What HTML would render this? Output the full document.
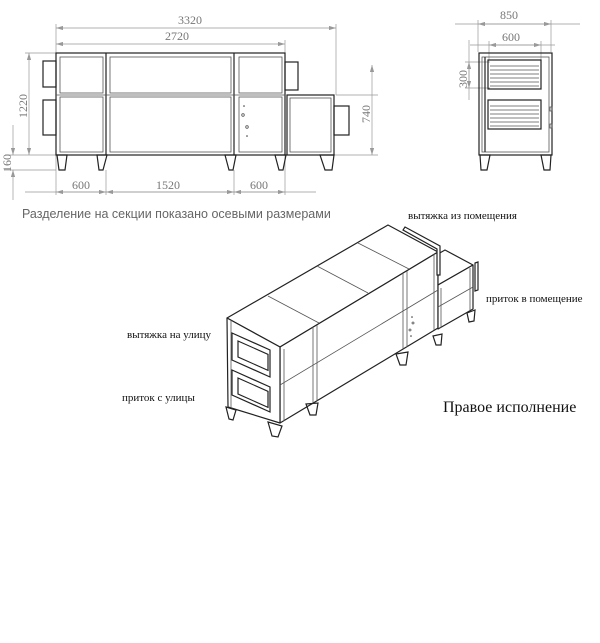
<!DOCTYPE html>
<html><head><meta charset="utf-8"><style>
html,body{margin:0;padding:0;background:#fff;width:600px;height:643px;overflow:hidden}
svg{display:block}
.d{stroke:#999;stroke-width:0.7;fill:none}
.t{font-family:"Liberation Serif",serif;fill:#777;font-size:12px}
.b{stroke:#222;stroke-width:1.2;fill:none}
.g{stroke:#555;stroke-width:0.8;fill:none}
.l{font-family:"Liberation Serif",serif;fill:#111;font-size:11px}
</style></head><body>
<svg width="600" height="643" viewBox="0 0 600 643">
<defs><marker id="a" viewBox="0 0 10 6" refX="10" refY="3" markerWidth="10" markerHeight="6" orient="auto-start-reverse"><path d="M0,0 L10,3 L0,6 z" fill="#999"/></marker></defs>
<!-- front view dims -->
<line class="d" x1="56" y1="28" x2="336" y2="28" marker-start="url(#a)" marker-end="url(#a)"/>
<text class="t" x="178" y="24">3320</text>
<line class="d" x1="56" y1="44" x2="285" y2="44" marker-start="url(#a)" marker-end="url(#a)"/>
<text class="t" x="165" y="40">2720</text>
<line class="d" x1="56" y1="24" x2="56" y2="195"/><line class="d" x1="336" y1="24" x2="336" y2="95"/>
<line class="d" x1="285" y1="40" x2="285" y2="195"/>
<line class="d" x1="106" y1="170" x2="106" y2="195"/><line class="d" x1="234" y1="170" x2="234" y2="195"/>
<line class="d" x1="25" y1="192" x2="316" y2="192"/>
<line class="d" x1="56" y1="192" x2="106" y2="192" marker-start="url(#a)" marker-end="url(#a)"/>
<line class="d" x1="106" y1="192" x2="234" y2="192" marker-start="url(#a)" marker-end="url(#a)"/>
<line class="d" x1="234" y1="192" x2="285" y2="192" marker-start="url(#a)" marker-end="url(#a)"/>
<text class="t" x="72" y="189">600</text><text class="t" x="156" y="189">1520</text><text class="t" x="250" y="189">600</text>
<line class="d" x1="29" y1="53" x2="29" y2="155" marker-start="url(#a)" marker-end="url(#a)"/>
<line class="d" x1="25" y1="53" x2="56" y2="53"/><line class="d" x1="5" y1="155" x2="56" y2="155"/><line class="d" x1="5" y1="170" x2="56" y2="170"/>
<text class="t" transform="translate(27,118) rotate(-90)">1220</text>
<line class="d" x1="13" y1="125" x2="13" y2="155" marker-end="url(#a)"/><line class="d" x1="13" y1="200" x2="13" y2="170" marker-end="url(#a)"/>
<text class="t" transform="translate(11,172) rotate(-90)">160</text>
<line class="d" x1="372" y1="65" x2="372" y2="155" marker-start="url(#a)" marker-end="url(#a)"/>
<line class="d" x1="336" y1="95" x2="378" y2="95"/><line class="d" x1="334" y1="155" x2="378" y2="155"/>
<text class="t" transform="translate(370,123) rotate(-90)">740</text>
<!-- front body -->
<rect class="b" x="56" y="53" width="229" height="102"/>
<rect class="g" x="60" y="57" width="43" height="36"/><rect class="g" x="60" y="97" width="43" height="55"/>
<rect class="g" x="110" y="57" width="121" height="36"/><rect class="g" x="110" y="97" width="121" height="55"/>
<rect class="g" x="239" y="57" width="43" height="36"/><rect class="g" x="239" y="97" width="43" height="55"/>
<line class="b" x1="106" y1="53" x2="106" y2="155"/><line class="b" x1="234" y1="53" x2="234" y2="155"/>
<line class="g" x1="56" y1="95" x2="285" y2="95"/>
<rect class="b" x="287" y="95" width="47" height="60"/><rect class="g" x="290" y="98" width="41" height="54"/>
<rect class="b" x="43" y="61" width="13" height="26"/><rect class="b" x="43" y="100" width="13" height="35"/>
<rect class="b" x="285" y="62" width="13" height="28"/><rect class="b" x="334" y="106" width="15" height="29"/>
<circle cx="244" cy="106" r="0.8" fill="#333"/><circle cx="243" cy="115" r="1.3" class="g"/><circle cx="247" cy="127" r="1.3" class="g"/><circle cx="247" cy="136" r="0.8" fill="#333"/>
<g class="b"><path d="M57,155 L67,155 L65,170 L59,170 Z"/><path d="M97,155 L107,155 L103,170 L99,170 Z"/><path d="M225,155 L236,155 L233,170 L229,170 Z"/><path d="M275,155 L286,155 L283,170 L279,170 Z"/><path d="M320,155 L334,155 L332,170 L325,170 Z"/></g>
<text x="22" y="218" style="font-family:'Liberation Sans',sans-serif;font-size:12.5px;fill:#666">Разделение на секции показано осевыми размерами</text>
<!-- side view -->
<line class="d" x1="455" y1="24" x2="580" y2="24"/><line class="d" x1="478" y1="24" x2="551" y2="24" marker-start="url(#a)" marker-end="url(#a)"/>
<text class="t" x="500" y="19">850</text>
<line class="d" x1="470" y1="45" x2="555" y2="45"/><line class="d" x1="489" y1="45" x2="541" y2="45" marker-start="url(#a)" marker-end="url(#a)"/>
<text class="t" x="502" y="41">600</text>
<line class="d" x1="478" y1="20" x2="478" y2="52"/><line class="d" x1="551" y1="20" x2="551" y2="52"/>
<line class="d" x1="489" y1="41" x2="489" y2="60"/><line class="d" x1="541" y1="41" x2="541" y2="60"/>
<line class="d" x1="469" y1="40" x2="469" y2="100"/><line class="d" x1="469" y1="62" x2="469" y2="88" marker-start="url(#a)" marker-end="url(#a)"/>
<line class="d" x1="465" y1="62" x2="490" y2="62"/><line class="d" x1="465" y1="88" x2="490" y2="88"/>
<text class="t" transform="translate(467,88) rotate(-90)">300</text>
<rect class="b" x="479" y="53" width="73" height="102"/><rect class="g" x="482" y="57" width="67" height="95"/>
<line class="b" x1="485" y1="57" x2="485" y2="152"/>
<rect class="b" x="488" y="60" width="53" height="29"/><rect class="b" x="488" y="100" width="53" height="29"/>
<g stroke="#555" stroke-width="0.8"><line x1="490" y1="66" x2="539" y2="66"/><line x1="490" y1="70" x2="539" y2="70"/><line x1="490" y1="74" x2="539" y2="74"/><line x1="490" y1="78" x2="539" y2="78"/><line x1="490" y1="82" x2="539" y2="82"/><line x1="490" y1="86" x2="539" y2="86"/>
<line x1="490" y1="106" x2="539" y2="106"/><line x1="490" y1="110" x2="539" y2="110"/><line x1="490" y1="114" x2="539" y2="114"/><line x1="490" y1="118" x2="539" y2="118"/><line x1="490" y1="122" x2="539" y2="122"/><line x1="490" y1="126" x2="539" y2="126"/></g>
<g class="b"><path d="M480,155 L490,155 L487,170 L481,170 Z"/><path d="M541,155 L551,155 L550,170 L544,170 Z"/></g>
<rect x="550" y="107" width="2" height="4" class="g"/><rect x="550" y="124" width="2" height="4" class="g"/>
<!-- isometric -->
<g class="b" stroke-linejoin="round">
<polygon points="227,318 388,225 438,252 280,347" fill="#fff"/>
<polygon points="280,347 438,252 438,328 280,423" fill="#fff"/>
<polygon points="227,318 280,347 280,423 228,407" fill="#fff"/>
<polygon points="438,285 473,265 445,250 438,254" fill="#fff"/>
<polygon points="438,285 473,265 473,309 438,329" fill="#fff"/>
</g>
<g class="g">
<line x1="268" y1="296" x2="319" y2="323"/><line x1="317" y1="266" x2="368" y2="293"/><line x1="358" y1="243" x2="409" y2="269"/>
<line x1="313" y1="327" x2="313" y2="403"/><line x1="317" y1="325" x2="317" y2="401"/>
<line x1="403" y1="273" x2="403" y2="349"/><line x1="407" y1="271" x2="407" y2="347"/>
<line x1="280" y1="385" x2="438" y2="290"/>
<line x1="438" y1="307" x2="473" y2="287"/>
<line x1="441" y1="288" x2="441" y2="328"/><line x1="470" y1="268" x2="470" y2="310"/>
<line x1="284" y1="349" x2="284" y2="421"/><line x1="434" y1="254" x2="434" y2="330"/>
<line x1="231" y1="320" x2="231" y2="408"/>
</g>
<g class="b">
<path d="M405,227 L440,246 L440,275 L437,275 L437,249 L403,230 Z" fill="#fff"/>
<path d="M475,263 L478,262 L478,290 L475,291 Z" fill="#fff"/>
<polygon points="232,333 270,350 270,377 232,360" fill="#fff"/><rect x="238" y="341" width="30" height="16" transform="skewY(24)" transform-origin="238 341" fill="none"/>
<polygon points="232,370 270,387 270,412 232,395" fill="#fff"/><rect x="238" y="378" width="30" height="16" transform="skewY(24)" transform-origin="238 378" fill="none"/>
<path d="M226,407 L236,410 L233,420 L229,419 Z"/><path d="M268,422 L282,426 L278,437 L272,436 Z"/>
<path d="M306,404 L318,403 L316,415 L310,415 Z"/><path d="M396,354 L408,352 L406,365 L400,365 Z"/>
<path d="M433,336 L442,334 L441,345 L436,345 Z"/><path d="M467,313 L475,310 L474,321 L469,322 Z"/>
</g>
<circle cx="412" cy="317" r="0.8" fill="#333"/><circle cx="413" cy="323" r="1" class="g"/><circle cx="410" cy="330" r="1" class="g"/><circle cx="411" cy="336" r="0.8" fill="#333"/>
<text class="l" x="408" y="219">вытяжка из помещения</text>
<text class="l" x="486" y="302">приток в помещение</text>
<text class="l" x="127" y="338">вытяжка на улицу</text>
<text class="l" x="122" y="401">приток с улицы</text>
<text x="443" y="412" style="font-family:'Liberation Serif',serif;font-size:16px;fill:#111">Правое исполнение</text>
</svg>
</body></html>
